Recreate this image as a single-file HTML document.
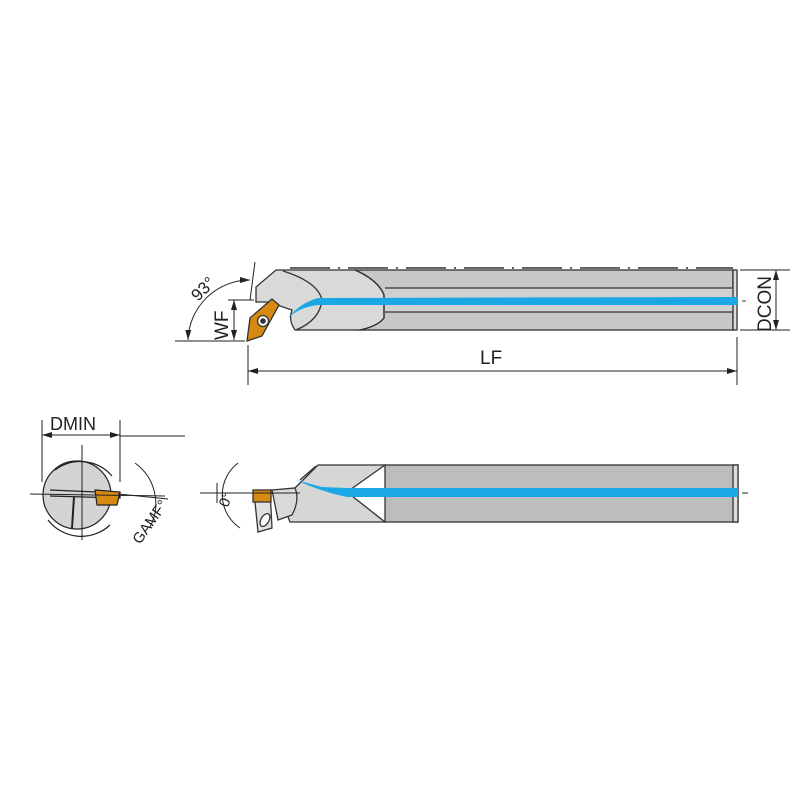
<!DOCTYPE html>
<html><head><meta charset="utf-8"><style>html,body{margin:0;padding:0;background:#fff}svg{display:block}</style></head>
<body>
<svg width="800" height="800" viewBox="0 0 800 800" xmlns="http://www.w3.org/2000/svg" font-family="Liberation Sans, sans-serif">
<defs>
<marker id="ar" markerWidth="10" markerHeight="6" refX="10" refY="3" orient="auto-start-reverse" markerUnits="userSpaceOnUse"><path d="M0,0 L10,3 L0,6 z" fill="#222"/></marker>
</defs>
<rect width="800" height="800" fill="#fff"/>
<!-- TOP VIEW -->
<line x1="290" y1="268" x2="733" y2="268" stroke="#333" stroke-width="1.5" stroke-dasharray="40,8,2,8"/>
<g stroke="#333" stroke-width="1.3">
<rect x="355" y="270" width="378" height="60" fill="#c8c8c8"/>
<rect x="385" y="288" width="348" height="24" fill="#d0d0d0" stroke="none"/>
<line x1="385" y1="288" x2="733" y2="288"/>
<line x1="385" y1="312" x2="733" y2="312"/>
<path d="M276,270 L355,270 Q378,280 384,295 L384,318 Q378,326 360,330 L295,330 Q288,320 292,310 L268,302 L256,302 L256,287 Z" fill="#d9d9d9"/>
<path d="M283,271 Q318,282 322,300 Q320,320 296,330" fill="none"/>
<path d="M355,270 Q378,280 384,295 L384,318 Q378,326 360,330" fill="none"/>
<path d="M250,318 L272,299 L279,305 L262,336 L247,341 Z" fill="#d68a12"/>
<circle cx="263" cy="321" r="5.5" fill="#fff" stroke="#333"/>
<circle cx="263" cy="321" r="2.8" fill="#333" stroke="none"/>
<rect x="733" y="270" width="4" height="60" fill="#ddd"/>
</g>
<path d="M288,318 Q300,303 318,298 L738,297 L738,305 L318,305 Q300,307 288,318 Z" fill="#1aa7e4"/>
<line x1="742" y1="301" x2="746" y2="301" stroke="#333"/>
<!-- dims top -->
<g stroke="#222" stroke-width="1" fill="none">
<line x1="255" y1="262" x2="250" y2="300"/>
<path d="M250,280 A62,62 0 0 0 188,340" marker-start="url(#ar)" marker-end="url(#ar)"/>
<line x1="175" y1="341" x2="245" y2="341"/>
<line x1="228" y1="300" x2="254" y2="300"/>
<line x1="234" y1="300" x2="234" y2="340" marker-start="url(#ar)" marker-end="url(#ar)"/>
<line x1="248" y1="345" x2="248" y2="385"/>
<line x1="737" y1="337" x2="737" y2="385"/>
<line x1="248" y1="371" x2="737" y2="371" marker-start="url(#ar)" marker-end="url(#ar)"/>
<line x1="740" y1="270" x2="790" y2="270"/>
<line x1="740" y1="330" x2="790" y2="330"/>
<line x1="776" y1="270" x2="776" y2="330" marker-start="url(#ar)" marker-end="url(#ar)"/>
</g>
<text x="0" y="0" font-size="17" fill="#222" transform="translate(198,302) rotate(-45)">93°</text>
<text x="0" y="0" font-size="19" fill="#222" transform="translate(228,340) rotate(-90)">WF</text>
<text x="480" y="364" font-size="19" fill="#222">LF</text>
<text x="0" y="0" font-size="19" fill="#222" transform="translate(771,332) rotate(-90)">DCON</text>
<!-- END VIEW -->
<g stroke="#222" stroke-width="1.2">
<circle cx="77" cy="495" r="34" fill="#d4d4d4"/>
<path d="M50,490 L120,493 L120,498 L50,496" fill="none"/>
<line x1="74" y1="497" x2="72" y2="528" stroke-width="2"/>
<path d="M95,490 L120,492 L117,505 L97,505 Z" fill="#d68a12"/>
<path d="M55,470 A42,42 0 0 1 112,476" fill="none"/>
<path d="M48,520 A42,42 0 0 0 110,525" fill="none"/>
</g>
<g stroke="#222" stroke-width="1" fill="none">
<line x1="30" y1="494" x2="165" y2="496"/>
<line x1="118" y1="494" x2="168" y2="499"/>
<line x1="82" y1="445" x2="82" y2="540"/>
<line x1="42" y1="420" x2="42" y2="482"/>
<line x1="120" y1="420" x2="120" y2="482"/>
<line x1="42" y1="435" x2="120" y2="435" marker-start="url(#ar)" marker-end="url(#ar)"/>
<line x1="120" y1="436" x2="185" y2="436"/>
<path d="M135,463 A50,50 0 0 1 150,527"/>
</g>
<text x="50" y="430" font-size="18" fill="#222">DMIN</text>
<text x="0" y="0" font-size="15" fill="#222" transform="translate(140,545) rotate(-55)">GAMF°</text>
<!-- SIDE VIEW -->
<g stroke="#333" stroke-width="1.3">
<rect x="385" y="465" width="353" height="57" fill="#bdbdbd"/>
<path d="M318,465 L385,465 L347,492 L385,522 L290,522 Q280,500 296,487 Z" fill="#d6d6d6"/>
<path d="M300,480 L316,466" fill="none"/>
<path d="M272,490 L295,488 Q300,500 292,515 L278,520 Z" fill="#d9d9d9"/>
<path d="M254,492 L270,490 L272,528 L258,532 Z" fill="#e0e0e0"/>
<rect x="253" y="490" width="18" height="12" fill="#d68a12"/>
<ellipse cx="265" cy="520" rx="4" ry="7" fill="#fff" transform="rotate(30 265 520)"/>
<rect x="733" y="465" width="5" height="57" fill="#ddd"/>
</g>
<path d="M296,480 L322,487 L347,488 L738,488 L738,497 L347,497 Q322,492 296,480 Z" fill="#1aa7e4"/>
<g stroke="#222" stroke-width="1" fill="none">
<line x1="200" y1="493" x2="300" y2="493"/>
<line x1="742" y1="493" x2="748" y2="493"/>
<path d="M238,463 A40,40 0 0 0 240,528"/>
<line x1="217" y1="483" x2="217" y2="503"/>
</g>
<text x="0" y="0" font-size="15" fill="#222" transform="translate(228,508) rotate(-70)">0°</text>
</svg>
</body></html>
